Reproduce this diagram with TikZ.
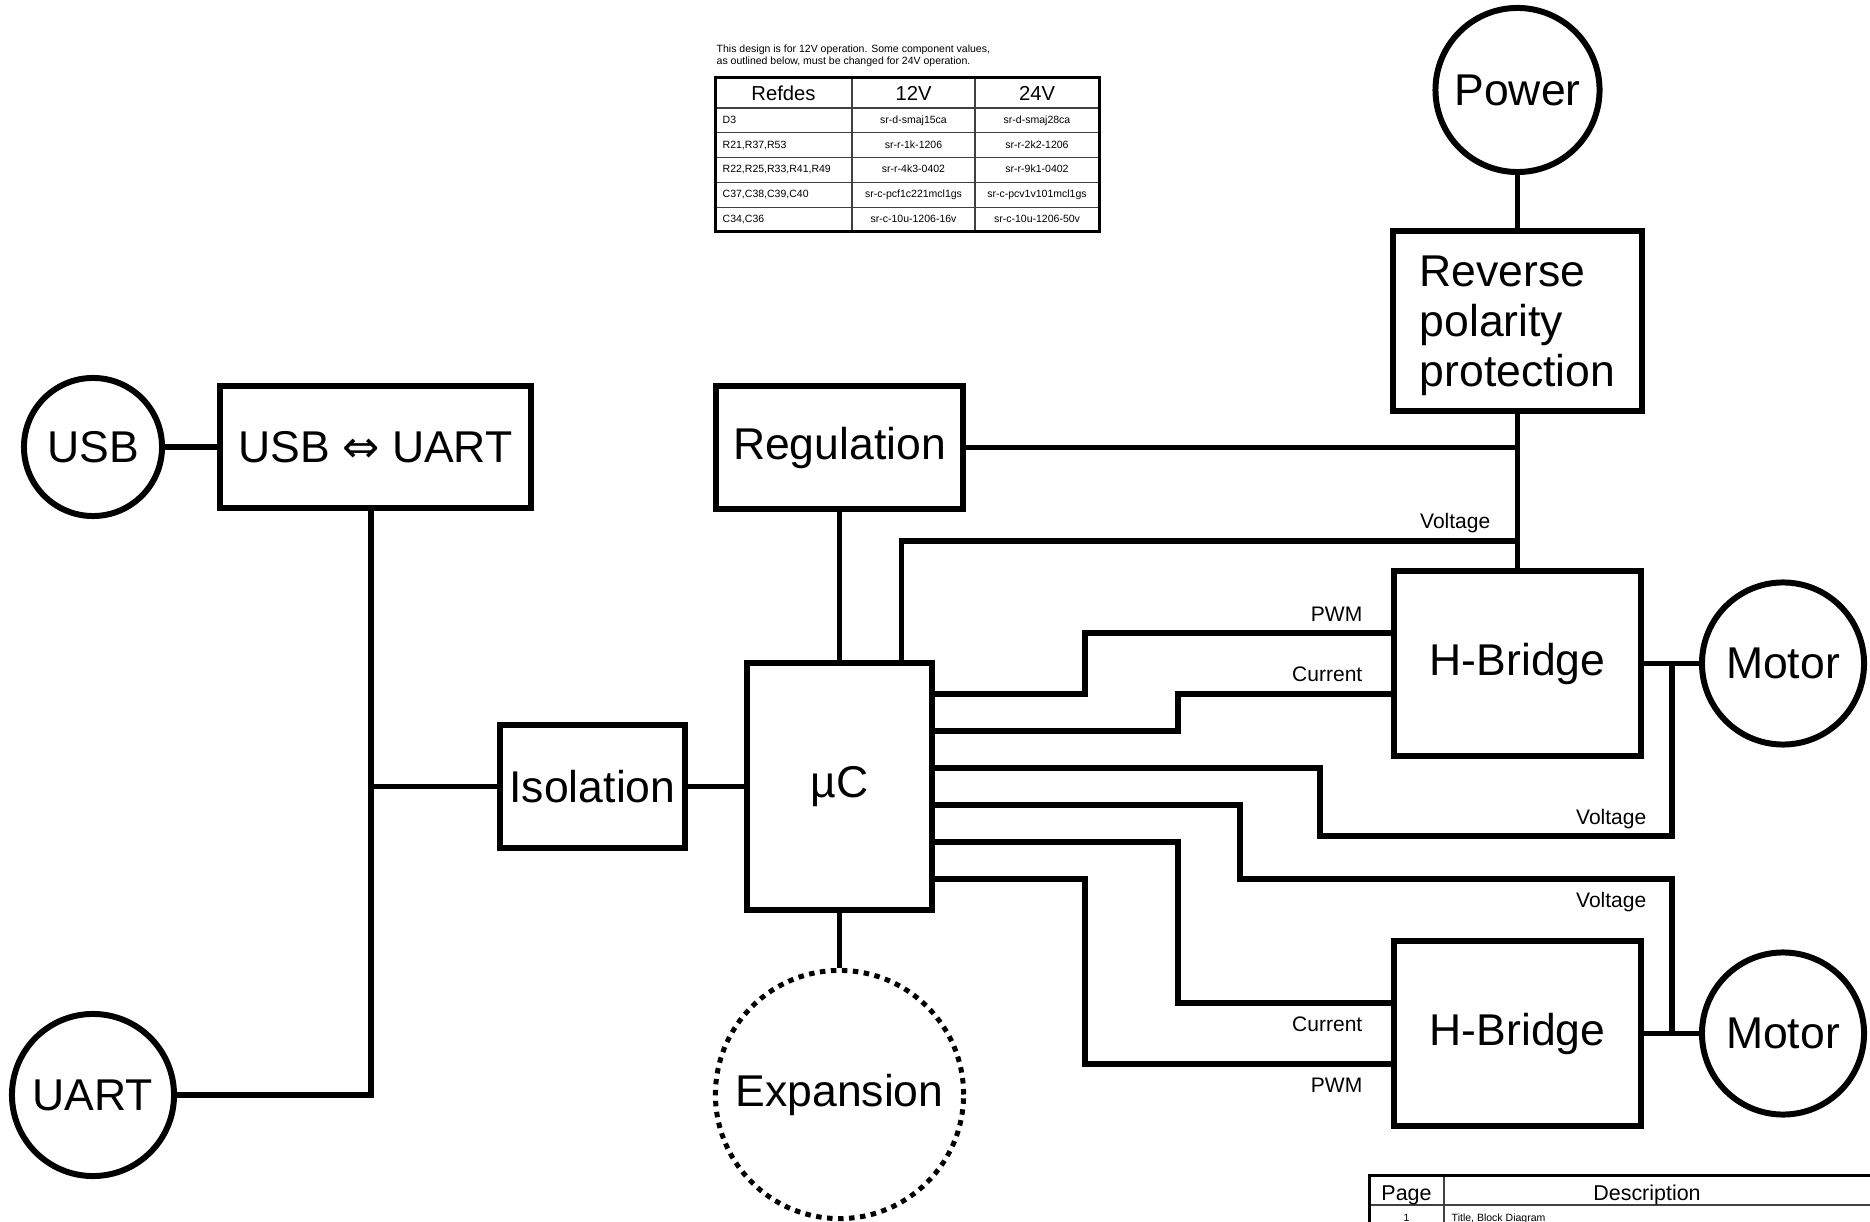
\documentclass[tikz,border=0pt]{standalone}
\usepackage{fontspec}
\setmainfont{Liberation Sans}
\newfontfamily\arrowfont{DejaVu Sans}
\newcommand{\blkfont}{\fontsize{12.66pt}{13.94pt}\selectfont}
\newcommand{\sigfont}{\fontsize{5.98pt}{7pt}\selectfont}
\newcommand{\tabheadfont}{\fontsize{5.75pt}{6.5pt}\selectfont}
\newcommand{\tabcellfont}{\fontsize{2.99pt}{3.4pt}\selectfont}
\tikzset{
 blockdiag/.style={x=0.01cm,y=-0.01cm,line join=miter,line cap=butt},
 block/.style={rectangle,draw,line width=1.7pt,inner sep=0pt,font=\blkfont},
 port/.style={circle,draw,line width=1.7pt,inner sep=0pt,font=\blkfont},
 optport/.style={port,line width=1.42pt,dash pattern=on .055cm off .055cm},
 wire/.style={draw,line width=1.45pt},
 sig/.style={font=\sigfont,inner sep=0pt,anchor=base east},
 note/.style={font=\tabcellfont,inner sep=0pt,anchor=base west},
 tabhead/.style={font=\tabheadfont,inner sep=0pt,anchor=base},
 tabcell/.style={font=\tabcellfont,inner sep=0pt,anchor=base},
 tabframe/.style={draw,line width=.85pt},
 tabrule/.style={draw=black!75,line width=.35pt}
}
\begin{document}
\begin{tikzpicture}[blockdiag]
 \path[use as bounding box,fill=white] (0,0) rectangle (1870,1222);
 \node[port,minimum size=1.38cm] (usb) at (93,447) {USB};
 \node[block,minimum width=3.11cm,minimum height=1.22cm] (usbuart) at (375.5,447) {USB {\arrowfont ⇔} UART};
 \node[port,minimum size=1.62cm] (uart) at (93,1095) {UART};
 \node[block,minimum width=1.85cm,minimum height=1.23cm] (iso) at (592.5,786.5) {Isolation};
 \node[block,minimum width=1.85cm,minimum height=2.47cm] (mcu) at (839.5,786.5) {µC};
 \node[block,minimum width=2.47cm,minimum height=1.23cm] (reg) at (839.5,447.5) {Regulation};
 \node[optport,minimum size=2.48cm] (expan) at (839.5,1094.5) {Expansion};
 \node[port,minimum size=1.64cm] (power) at (1517.5,90) {Power};
 \node[block,align=left,text depth=0pt,font=\fontsize{12.66pt}{14.2pt}\selectfont,
   minimum width=2.49cm,minimum height=1.8cm] (rpp) at (1517.5,321) {Reverse\\polarity\\protection};
 \node[block,minimum width=2.47cm,minimum height=1.85cm] (hbA) at (1517.5,663.5) {H-Bridge};
 \node[block,minimum width=2.47cm,minimum height=1.85cm] (hbB) at (1517.5,1033.5) {H-Bridge};
 \node[port,minimum size=1.62cm] (motA) at (1783,663.5) {Motor};
 \node[port,minimum size=1.62cm] (motB) at (1783,1033.5) {Motor};

 \coordinate (bus) at (371,786.5);
 \coordinate (vtop) at (1517.5,541);
 \coordinate (tapA) at (1672,663.5); \coordinate (tapB) at (1672,1033.5);
 \coordinate (pwmA) at ([yshift=.305cm]hbA.west); \coordinate (curA) at ([yshift=-.305cm]hbA.west);
 \coordinate (curB) at ([yshift=.305cm]hbB.west); \coordinate (pwmB) at ([yshift=-.305cm]hbB.west);
 \foreach \k/\y in {1/694,2/731,3/768,4/805,5/842,6/879}
  \coordinate (pin\k) at (mcu.east |- 0,\y);

 \draw[wire] (usb) -- (usbuart);
 \draw[wire] (usbuart.south -| bus) |- (uart.east);
 \draw[wire] (bus) -- (iso.west);
 \draw[wire] (iso) -- (mcu);
 \draw[wire] (reg) -- (mcu);
 \draw[wire] (mcu) -- (expan);
 \draw[wire] (power) -- (rpp);
 \draw[wire] (rpp) -- (hbA);
 \draw[wire] (reg.east) -- (reg.east -| rpp.south);
 \draw[wire] ([xshift=.615cm]mcu.north) |- (vtop);
 \draw[wire] (hbA) -- (motA);
 \draw[wire] (hbB) -- (motB);
 \draw[wire] (pin1) -- (1085,694) |- (pwmA);
 \draw[wire] (pin2) -- (1178,731) |- (curA);
 \draw[wire] (pin3) -- (1320,768) |- (1672,836) -- (tapA);
 \draw[wire] (pin4) -- (1240,805) |- (1672,879) -- (tapB);
 \draw[wire] (pin5) -- (1178,842) |- (curB);
 \draw[wire] (pin6) -- (1085,879) |- (pwmB);

 \node[sig] (lvA) at (1491,528.5) {Voltage};
 \node[sig] (lpwmA) at (1363,621) {PWM};
 \node[sig] (lcurA) at (1363,682) {Current};
 \node[sig] (lvB) at (1647,824.5) {Voltage};
 \node[sig] (lvC) at (1647,907) {Voltage};
 \node[sig] (lcurB) at (1363,1031) {Current};
 \node[sig] (lpwmB) at (1363,1092) {PWM};

 \node[note] (noteA) at (716,53) {This design is for 12V operation. Some component values,};
 \node[note] (noteB) at (716,65) {as outlined below, must be changed for 24V operation.};
 \foreach \y in {108,132.8,157.6,182.4,207.2} \draw[tabrule] (715,\y) -- (1099,\y);
 \draw[tabrule] (852,78) -- (852,232) (975,78) -- (975,232);
 \draw[tabframe] (715,78) rectangle (1099,232);
 \node[tabhead] (hRef) at (783.5,100.5) {Refdes};
 \node[tabhead] (hTw) at (913.5,100.5) {12V};
 \node[tabhead] (hTf) at (1037,100.5) {24V};
 \foreach \refd/\va/\vb [count=\i] in {D3/sr-d-smaj15ca/sr-d-smaj28ca,
   {R21,R37,R53}/sr-r-1k-1206/sr-r-2k2-1206,
   {R22,R25,R33,R41,R49}/sr-r-4k3-0402/sr-r-9k1-0402,
   {C37,C38,C39,C40}/sr-c-pcf1c221mcl1gs/sr-c-pcv1v101mcl1gs,
   {C34,C36}/sr-c-10u-1206-16v/sr-c-10u-1206-50v}{
  \node[tabcell,anchor=base west] (rd\i) at (722,{108+(\i-0.5)*24.8+3}) {\refd};
  \node[tabcell] (rt\i) at (913.5,{108+(\i-0.5)*24.8+3}) {\va};
  \node[tabcell] (rf\i) at (1037,{108+(\i-0.5)*24.8+3}) {\vb};
 }

 \draw[tabrule] (1369,1205) -- (1890,1205) (1444,1175) -- (1444,1240);
 \draw[tabframe] (1369,1240) -- (1369,1175) -- (1890,1175);
 \node[tabhead,font=\fontsize{6.1pt}{7pt}\selectfont] (hPage) at (1406.5,1200) {Page};
 \node[tabhead,font=\fontsize{6.1pt}{7pt}\selectfont] (hDesc) at (1647,1200) {Description};
 \node[tabcell] (pgNo) at (1406.5,1221) {1};
 \node[tabcell,anchor=base west] (pgDesc) at (1451,1221) {Title, Block Diagram};
\end{tikzpicture}
\end{document}
